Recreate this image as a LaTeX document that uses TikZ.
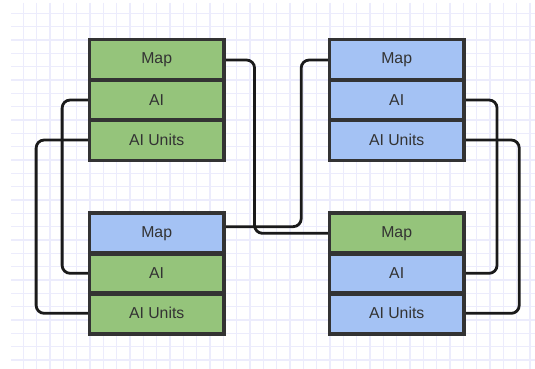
\documentclass[tikz,border=0pt]{standalone}
\usepackage{fontspec}
\setmainfont{Liberation Sans}
\definecolor{gridcol}{HTML}{ECECFC}
\definecolor{greenfill}{HTML}{95C47B}
\definecolor{bluefill}{HTML}{A4C2F4}
\definecolor{edgecol}{HTML}{333333}
\definecolor{linecol}{HTML}{1A1A1A}
\definecolor{textcol}{HTML}{333333}
\tikzset{
  row/.style={draw=edgecol, line width=2.4pt, rectangle,
    minimum width=133.33pt, minimum height=40pt, inner sep=0pt,
    text=textcol, font=\fontsize{15.8}{18}\selectfont},
  grn/.style={row, fill=greenfill},
  blu/.style={row, fill=bluefill},
  conn/.style={draw=linecol, line width=2.8pt, rounded corners=8pt},
  gridline/.style={draw=gridcol, line width=1.3pt}
}
\begin{document}
\begin{tikzpicture}[x=1pt, y=-1pt]
  \useasboundingbox (0,0) rectangle (535,369);
  \fill[white] (0,0) rectangle (535,369);
  % background grid
  \foreach \i in {1,...,39} {
    \draw[gridline] ({10+13.333*\i},3) -- ({10+13.333*\i},369);
  }
  \foreach \j in {1,...,27} {
    \draw[gridline] (11,{13.333*\j}) -- (535,{13.333*\j});
  }

  % top left table
  \node[grn] (tlmap)   at (156.67,60)  {Map};
  \node[grn] (tlai)    at (156.67,100) {AI};
  \node[grn] (tlunits) at (156.67,140) {AI Units};
  % top right table
  \node[blu] (trmap)   at (396.67,60)  {Map};
  \node[blu] (trai)    at (396.67,100) {AI};
  \node[blu] (trunits) at (396.67,140) {AI Units};
  % bottom left table
  \node[blu] (blmap)   at (156.67,233.33) {Map};
  \node[grn] (blai)    at (156.67,273.33) {AI};
  \node[grn] (blunits) at (156.67,313.33) {AI Units};
  % bottom right table
  \node[grn] (brmap)   at (396.67,233.33) {Map};
  \node[blu] (brai)    at (396.67,273.33) {AI};
  \node[blu] (brunits) at (396.67,313.33) {AI Units};

  % connectors between the table rows
  \path[conn] (tlmap.east) -- ++(30,0) |- (brmap.west);
  \path[conn] ([yshift=6.67pt]blmap.east) -- ++(76.67,0) |- (trmap.west);
  \path[conn] (tlai.west) -- ++(-26.67,0) |- (blai.west);
  \path[conn] (tlunits.west) -- ++(-52.67,0) |- (blunits.west);
  \path[conn] (trai.east) -- ++(32.5,0) |- (brai.east);
  \path[conn] (trunits.east) -- ++(54.7,0) |- (brunits.east);

  % redraw the table outlines on top of the connector ends
  \foreach \n in {tlmap,tlai,tlunits,trmap,trai,trunits,blmap,blai,blunits,brmap,brai,brunits} {
    \draw[edgecol, line width=2.4pt] (\n.north west) rectangle (\n.south east);
  }
\end{tikzpicture}
\end{document}
